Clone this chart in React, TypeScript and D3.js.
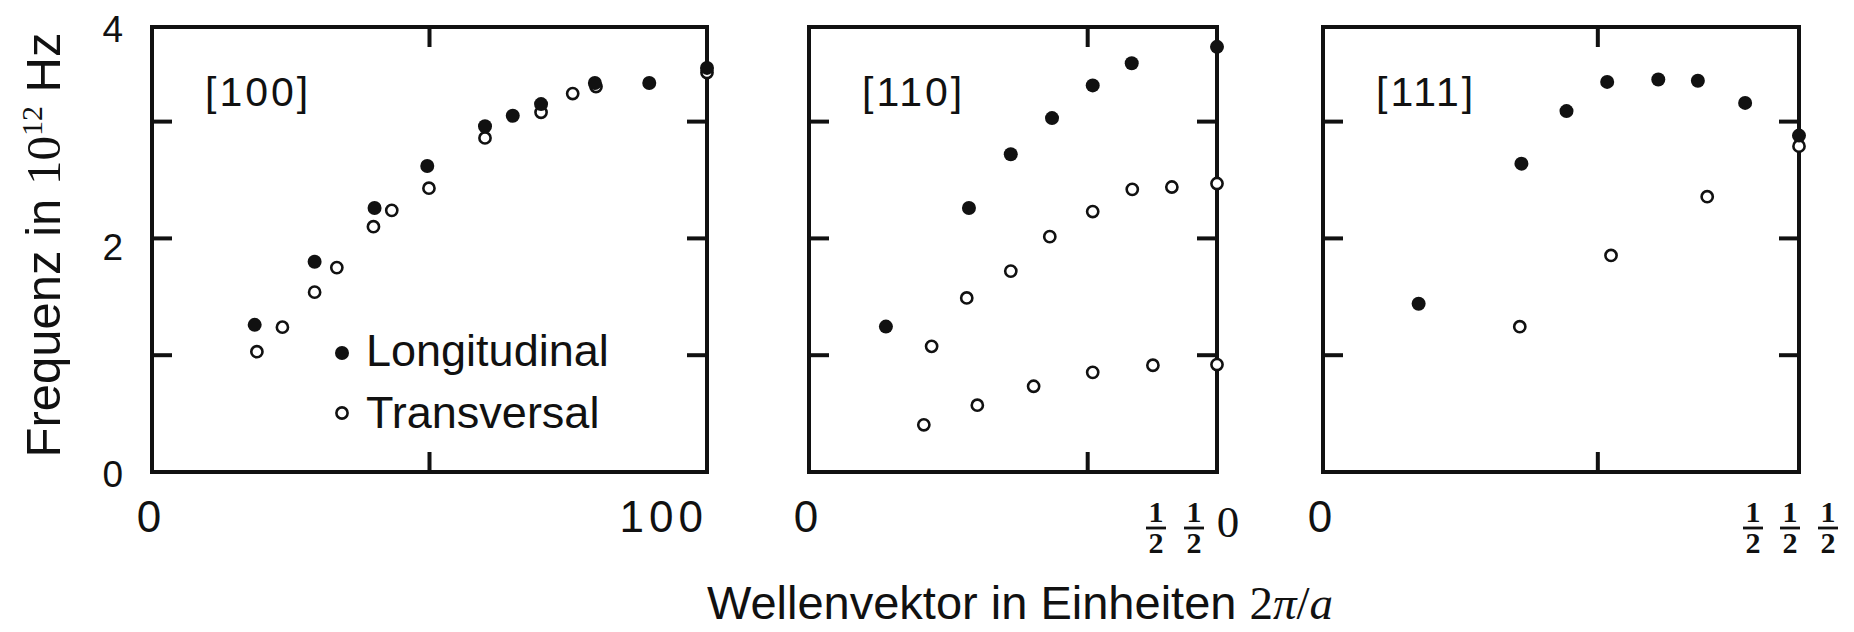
import React from "react";
import * as d3 from "d3";

// ---- data (wave vector in units of 2π/a, frequency in 10^12 Hz) ----
const panelNames = ["[100]", "[110]", "[111]"];
const zoneBoundary = [1, 0.732, 0.866];

const long100k = [0.185, 0.293, 0.401, 0.496, 0.6, 0.65, 0.701, 0.798, 0.896, 1.0];
const long100f = [1.26, 1.8, 2.26, 2.62, 2.96, 3.05, 3.15, 3.33, 3.33, 3.46];
const trans100k = [0.189, 0.235, 0.293, 0.333, 0.399, 0.432, 0.499, 0.6, 0.701, 0.758, 0.8, 1.0];
const trans100f = [1.03, 1.24, 1.54, 1.75, 2.1, 2.24, 2.43, 2.86, 3.08, 3.24, 3.3, 3.42];

const long110k = [0.138, 0.287, 0.362, 0.436, 0.509, 0.579, 0.732];
const long110f = [1.245, 2.26, 2.72, 3.03, 3.31, 3.5, 3.64];
const transA110k = [0.22, 0.283, 0.362, 0.432, 0.509, 0.58, 0.651, 0.732];
const transA110f = [1.076, 1.49, 1.72, 2.015, 2.23, 2.42, 2.44, 2.47];
const transB110k = [0.206, 0.302, 0.403, 0.509, 0.617, 0.732];
const transB110f = [0.404, 0.572, 0.734, 0.853, 0.914, 0.92];

const long111k = [0.174, 0.361, 0.443, 0.517, 0.61, 0.682, 0.768, 0.866];
const long111f = [1.44, 2.64, 3.09, 3.34, 3.36, 3.35, 3.16, 2.88];
const trans111k = [0.358, 0.524, 0.699, 0.866];
const trans111f = [1.244, 1.854, 2.357, 2.79];

const yTickValues = [1, 2, 3];
const yTickLabels = ["0", "2", "4"];
const xMidTick = 0.5;

// ---- layout ----
const W = 1854;
const H = 632;
const TOP = 27;
const BOTTOM = 472;
const panelLeft = [152, 809, 1323];
const panelRight = [707, 1217, 1799];
const YMAX = 3.81;
const INK = "#111";
const SANS = "'Liberation Sans', Arial, Helvetica, sans-serif";
const SERIF = "'Liberation Serif', 'DejaVu Serif', serif";

const y = d3.scaleLinear().domain([0, YMAX]).range([BOTTOM, TOP]);

type Pt = { k: number; f: number };
const zip = (ks: number[], fs: number[]): Pt[] => ks.map((k, i) => ({ k, f: fs[i] }));

const longData: Pt[][] = [zip(long100k, long100f), zip(long110k, long110f), zip(long111k, long111f)];
const transData: Pt[][] = [
  zip(trans100k, trans100f),
  zip(transA110k, transA110f).concat(zip(transB110k, transB110f)),
  zip(trans111k, trans111f),
];

function Half({ cx }: { cx: number }) {
  return (
    <g>
      <text x={cx} y={522} textAnchor="middle" fontFamily={SERIF} fontWeight="bold" fontSize={30} fill={INK}>
        1
      </text>
      <line x1={cx - 10} x2={cx + 10} y1={528} y2={528} stroke={INK} strokeWidth={2.8} />
      <text x={cx} y={553} textAnchor="middle" fontFamily={SERIF} fontWeight="bold" fontSize={30} fill={INK}>
        2
      </text>
    </g>
  );
}

function Panel({ i }: { i: number }) {
  const x = d3.scaleLinear().domain([0, zoneBoundary[i]]).range([panelLeft[i], panelRight[i]]);
  const L = panelLeft[i];
  const R = panelRight[i];
  const tick = 20;
  const xm = x(xMidTick);
  return (
    <g>
      <rect x={L} y={TOP} width={R - L} height={BOTTOM - TOP} fill="none" stroke={INK} strokeWidth={4} />
      {yTickValues.map((v) => (
        <g key={v}>
          <line x1={L} x2={L + tick} y1={y(v)} y2={y(v)} stroke={INK} strokeWidth={4} />
          <line x1={R - tick} x2={R} y1={y(v)} y2={y(v)} stroke={INK} strokeWidth={4} />
        </g>
      ))}
      <line x1={xm} x2={xm} y1={TOP} y2={TOP + tick} stroke={INK} strokeWidth={4} />
      <line x1={xm} x2={xm} y1={BOTTOM - tick} y2={BOTTOM} stroke={INK} strokeWidth={4} />
      <text x={L + 53} y={106} fontFamily={SANS} fontSize={41} fill={INK} letterSpacing={3}>
        {panelNames[i]}
      </text>
      {transData[i].map((p, j) => (
        <circle key={"t" + j} cx={x(p.k)} cy={y(p.f)} r={5.6} fill="#fff" stroke={INK} strokeWidth={2.6} />
      ))}
      {longData[i].map((p, j) => (
        <circle key={"l" + j} cx={x(p.k)} cy={y(p.f)} r={7} fill={INK} />
      ))}
      <text x={L - 3} y={532} textAnchor="middle" fontFamily={SANS} fontSize={44} fill={INK}>
        0
      </text>
    </g>
  );
}

export default function App() {
  return (
    <div style={{ position: "absolute", left: 0, top: 0, width: W, height: H, background: "#fff" }}>
      <style>{"body{margin:0;background:#fff}"}</style>
      <svg width={W} height={H} viewBox={`0 0 ${W} ${H}`} style={{ display: "block" }}>
        <rect x={0} y={0} width={W} height={H} fill="#fff" />
        {/* y tick labels */}
        <text x={123} y={42} textAnchor="end" fontFamily={SANS} fontSize={37} fill={INK}>
          {yTickLabels[2]}
        </text>
        <text x={123} y={y(2) + 22} textAnchor="end" fontFamily={SANS} fontSize={37} fill={INK}>
          {yTickLabels[1]}
        </text>
        <text x={123} y={y(0) + 15} textAnchor="end" fontFamily={SANS} fontSize={37} fill={INK}>
          {yTickLabels[0]}
        </text>
        {/* y axis title */}
        <text
          transform="translate(60,245) rotate(-90)"
          textAnchor="middle"
          fontFamily={SANS}
          fontSize={49}
          fill={INK}
        >
          Frequenz in{" "}
          <tspan fontFamily={SERIF}>10</tspan>
          <tspan fontFamily={SERIF} fontSize={30} dy={-18}>
            12
          </tspan>
          <tspan dy={18}> Hz</tspan>
        </text>

        {[0, 1, 2].map((i) => (
          <Panel key={i} i={i} />
        ))}

        {/* end-of-zone labels */}
        <text x={708} y={532} textAnchor="end" fontFamily={SANS} fontSize={44} fill={INK} letterSpacing={5}>
          100
        </text>
        <Half cx={1156} />
        <Half cx={1194} />
        <text x={1228} y={537} textAnchor="middle" fontFamily={SERIF} fontSize={45} fill={INK}>
          0
        </text>
        <Half cx={1753} />
        <Half cx={1790} />
        <Half cx={1828} />

        {/* legend */}
        <circle cx={342} cy={353} r={7} fill={INK} />
        <text x={366} y={366} fontFamily={SANS} fontSize={45} fill={INK}>
          Longitudinal
        </text>
        <circle cx={342} cy={413} r={5.6} fill="#fff" stroke={INK} strokeWidth={2.6} />
        <text x={366} y={428} fontFamily={SANS} fontSize={45} fill={INK}>
          Transversal
        </text>

        {/* x axis title */}
        <text x={1020} y={619} textAnchor="middle" fontFamily={SANS} fontSize={47} fill={INK}>
          Wellenvektor in Einheiten{" "}
          <tspan fontFamily={SERIF}>2</tspan>
          <tspan fontFamily={SERIF} fontStyle="italic">π</tspan>
          <tspan fontFamily={SERIF}>/</tspan>
          <tspan fontFamily={SERIF} fontStyle="italic">a</tspan>
        </text>
      </svg>
    </div>
  );
}
